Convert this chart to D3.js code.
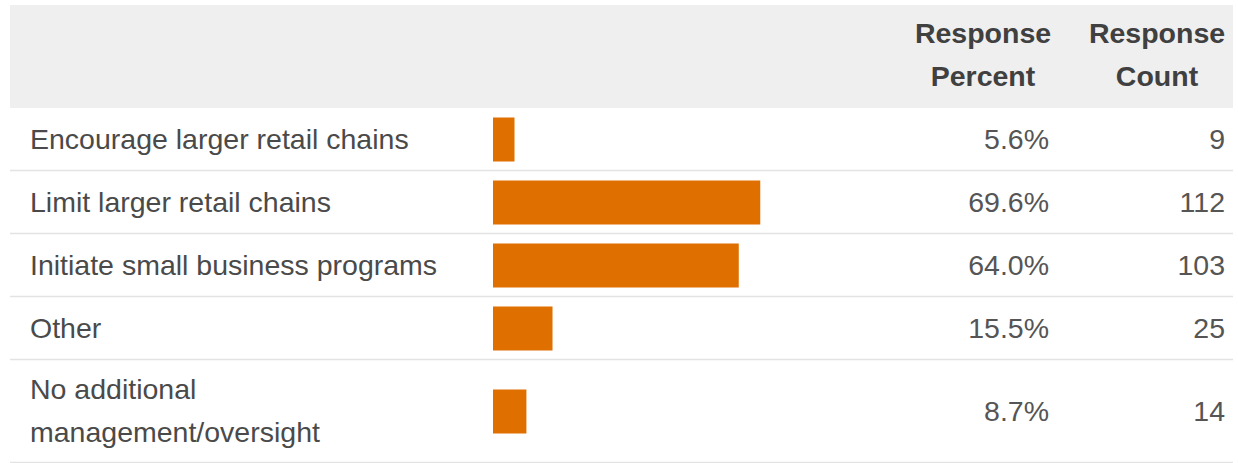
<!DOCTYPE html>
<html>
<head>
<meta charset="utf-8">
<script src="https://cdn.jsdelivr.net/npm/d3@7"></script>
<style>
  body { margin: 0; background: #fff; }
</style>
</head>
<body>
<div id="chart"></div>
<script>
const width = 1238;
const height = 463;
const font = "'Liberation Sans', Arial, Helvetica, sans-serif";
const fontSize = 28.5;

// answer options (multi-line labels split with "|")
const answers = [
    "Encourage larger retail chains",
    "Limit larger retail chains",
    "Initiate small business programs",
    "Other",
    "No additional|management/oversight"
];
const percents = [5.6, 69.6, 64.0, 15.5, 8.7];
const counts = [9, 112, 103, 25, 14];
const headers = [["Response", "Percent"], ["Response", "Count"]];

const left = 10;
const right = 1233;
const headTop = 5;
const headBottom = 108;
const lineH = 43;

const svg = d3.select("#chart").append("svg")
    .attr("width", width)
    .attr("height", height)
    .style("font-family", font);

// header band
svg.append("rect")
    .attr("x", left)
    .attr("y", headTop)
    .attr("width", right - left)
    .attr("height", headBottom - headTop)
    .attr("fill", "#efefef");

const headX = [983, 1157];
headers.forEach((h, i) => {
    svg.append("text")
        .attr("x", headX[i])
        .attr("y", 43)
        .attr("text-anchor", "middle")
        .attr("font-size", fontSize)
        .attr("font-weight", "bold")
        .attr("fill", "#404040")
        .selectAll("tspan")
        .data(h)
        .join("tspan")
        .attr("x", headX[i])
        .attr("dy", (d, j) => j === 0 ? 0 : lineH)
        .text(d => d);
});

// rows - height depends on number of label lines
const rows = answers.map((a, i) => ({
    lines: a.split("|"),
    pct: percents[i],
    count: counts[i]
}));
let yy = headBottom;
rows.forEach(r => {
    r.y0 = yy;
    r.h = 63 + (r.lines.length - 1) * 40;
    yy += r.h;
});

const x = d3.scaleLinear()
    .domain([0, 100])
    .range([493, 493 + 384]);

const barH = 44;

const g = svg.selectAll("g.row")
    .data(rows)
    .join("g")
    .attr("class", "row")
    .attr("transform", d => `translate(0,${d.y0})`);

g.append("line")
    .attr("x1", left)
    .attr("x2", right)
    .attr("y1", d => d.h - 0.5)
    .attr("y2", d => d.h - 0.5)
    .attr("stroke", "#e3e3e3")
    .attr("stroke-width", 1.5);

g.append("text")
    .attr("x", 30)
    .attr("y", d => d.h / 2 - (d.lines.length - 1) * lineH / 2)
    .attr("font-size", fontSize)
    .attr("fill", "#4a4a4a")
    .selectAll("tspan")
    .data(d => d.lines)
    .join("tspan")
    .attr("x", 30)
    .attr("dy", (d, j) => j === 0 ? "0.33em" : lineH)
    .text(d => d);

g.append("rect")
    .attr("x", x(0))
    .attr("y", d => d.h / 2 - barH / 2)
    .attr("width", d => x(d.pct) - x(0))
    .attr("height", barH)
    .attr("fill", "#df7000");

g.append("text")
    .attr("x", 1049)
    .attr("y", d => d.h / 2)
    .attr("dy", "0.33em")
    .attr("text-anchor", "end")
    .attr("font-size", fontSize)
    .attr("fill", "#555")
    .text(d => d.pct.toFixed(1) + "%");

g.append("text")
    .attr("x", 1225)
    .attr("y", d => d.h / 2)
    .attr("dy", "0.33em")
    .attr("text-anchor", "end")
    .attr("font-size", fontSize)
    .attr("fill", "#555")
    .text(d => d.count);
</script>
</body>
</html>
